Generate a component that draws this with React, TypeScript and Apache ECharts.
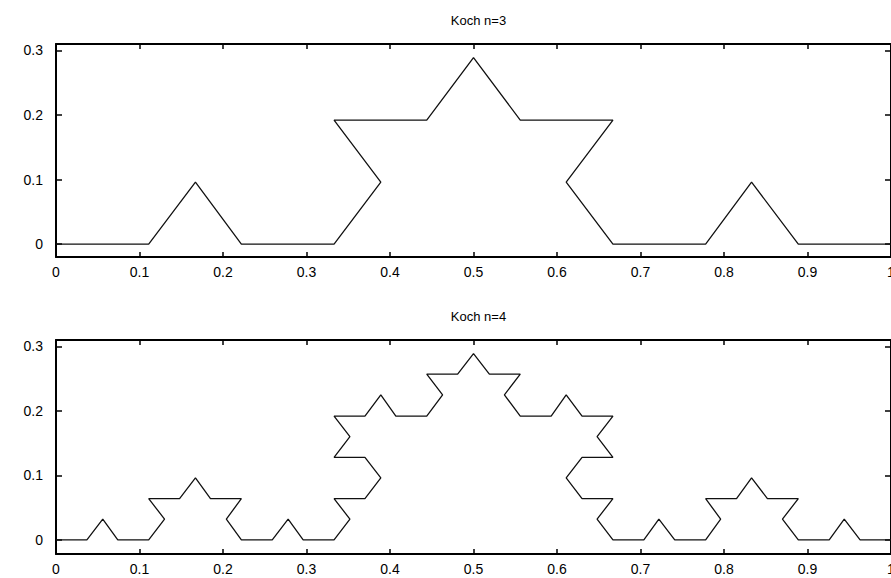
import React, { useEffect, useRef } from "react";
import * as echarts from "echarts";

const titles = ["Koch n=3", "Koch n=4"];
const xTicks = [0, 0.1, 0.2, 0.3, 0.4, 0.5, 0.6, 0.7, 0.8, 0.9, 1];
const yTicks = [0, 0.1, 0.2, 0.3];

const kochAX = [0, 0.111, 0.167, 0.222, 0.333, 0.389, 0.333, 0.444, 0.5, 0.556, 0.667, 0.611, 0.667, 0.778, 0.833, 0.889, 1];
const kochAY = [0, 0, 0.096, 0, 0, 0.096, 0.192, 0.192, 0.289, 0.192, 0.192, 0.096, 0, 0, 0.096, 0, 0];

const kochBX = [
  0, 0.037, 0.056, 0.074, 0.111, 0.130, 0.111, 0.148, 0.167, 0.185, 0.222, 0.204, 0.222,
  0.259, 0.278, 0.296, 0.333, 0.352, 0.333, 0.370, 0.389, 0.370, 0.333, 0.352, 0.333,
  0.370, 0.389, 0.407, 0.444, 0.463, 0.444, 0.481, 0.5, 0.519, 0.556, 0.537, 0.556,
  0.593, 0.611, 0.630, 0.667, 0.648, 0.667, 0.630, 0.611, 0.630, 0.667, 0.648, 0.667,
  0.704, 0.722, 0.741, 0.778, 0.796, 0.778, 0.815, 0.833, 0.852, 0.889, 0.870, 0.889,
  0.926, 0.944, 0.963, 1,
];
const kochBY = [
  0, 0, 0.032, 0, 0, 0.032, 0.064, 0.064, 0.096, 0.064, 0.064, 0.032, 0,
  0, 0.032, 0, 0, 0.032, 0.064, 0.064, 0.096, 0.128, 0.128, 0.160, 0.192,
  0.192, 0.225, 0.192, 0.192, 0.225, 0.257, 0.257, 0.289, 0.257, 0.257, 0.225, 0.192,
  0.192, 0.225, 0.192, 0.192, 0.160, 0.128, 0.128, 0.096, 0.064, 0.064, 0.032, 0,
  0, 0.032, 0, 0, 0.032, 0.064, 0.064, 0.096, 0.064, 0.064, 0.032, 0,
  0, 0.032, 0, 0,
];

const FONT = "Liberation Sans, Arial, sans-serif";

export default function App() {
  const ref = useRef<HTMLDivElement>(null);
  useEffect(() => {
    if (!ref.current) return;
    const chart = echarts.init(ref.current, undefined, { renderer: "svg" });
    const fmt = (v: number) => String(+(+v).toFixed(1));
    const grids = [
      { left: 56, right: 0, top: 44, height: 213, outerBoundsMode: "none", containLabel: false },
      { left: 56, right: 0, top: 340, height: 214, outerBoundsMode: "none", containLabel: false },
    ];
    const yRanges = [
      [-0.02, 0.31],
      [-0.022, 0.31],
    ];
    const lineAxis = { show: true, onZero: false, lineStyle: { color: "#000", width: 2 } };
    const xAxes: any[] = [];
    const yAxes: any[] = [];
    grids.forEach((_, i) => {
      const xBase = {
        type: "value",
        gridIndex: i,
        min: 0,
        max: 1,
        interval: 0.1,
        splitLine: { show: false },
        axisLine: lineAxis,
        axisTick: { show: true, inside: true, length: 5, lineStyle: { color: "#000", width: 1.5 } },
      };
      xAxes.push({
        ...xBase,
        position: "bottom",
        axisLabel: { show: true, color: "#000", fontSize: 14, fontFamily: FONT, margin: 8, formatter: fmt, customValues: xTicks, hideOverlap: false },
      });
      xAxes.push({ ...xBase, position: "top", axisLabel: { show: false } });
      const yBase = {
        type: "value",
        gridIndex: i,
        min: yRanges[i][0],
        max: yRanges[i][1],
        splitLine: { show: false },
        axisLine: lineAxis,
        axisTick: { show: true, inside: true, length: 6, customValues: yTicks, lineStyle: { color: "#000", width: 1.5 } },
      };
      yAxes.push({
        ...yBase,
        position: "left",
        axisLabel: { show: true, color: "#000", fontSize: 14, fontFamily: FONT, margin: 13, formatter: fmt, customValues: yTicks },
      });
      yAxes.push({ ...yBase, position: "right", axisLabel: { show: false } });
    });
    const datasets = [
      kochAX.map((x, k) => [x, kochAY[k]]),
      kochBX.map((x, k) => [x, kochBY[k]]),
    ];
    chart.setOption({
      animation: false,
      backgroundColor: "#fff",
      title: titles.map((t, i) => ({
        text: t,
        left: 473.5,
        top: i === 0 ? 9 : 305,
        textAlign: "center",
        textStyle: { color: "#000", fontSize: 13, fontWeight: "normal", fontFamily: FONT },
      })),
      grid: grids,
      xAxis: xAxes,
      yAxis: yAxes,
      series: datasets.map((d, i) => ({
        type: "line",
        xAxisIndex: i * 2,
        yAxisIndex: i * 2,
        data: d,
        symbol: "none",
        showSymbol: false,
        lineStyle: { color: "#111", width: 1.3 },
      })),
    });
    return () => chart.dispose();
  }, []);
  return (
    <div
      ref={ref}
      style={{ position: "fixed", left: 0, top: 0, width: 891, height: 578, background: "#fff" }}
    />
  );
}
